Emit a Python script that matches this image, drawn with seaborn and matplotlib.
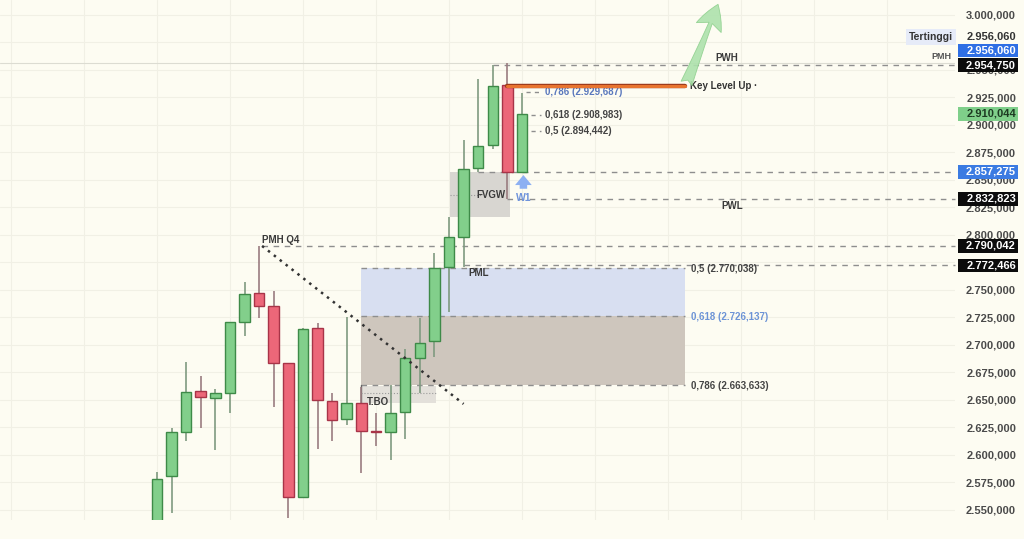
import numpy as np
import pandas as pd
import seaborn as sns
import matplotlib.pyplot as plt
import matplotlib.patheffects as pe
from matplotlib import transforms
from matplotlib.patches import Rectangle

# candle data (weekly-ish bars)
opens = [2538000, 2581200, 2621200, 2658200, 2651500, 2656100, 2720600, 2747000,
         2735500, 2683400, 2562100, 2715200, 2649400, 2632700, 2647300, 2622100,
         2620600, 2639100, 2688500, 2703900, 2770600, 2797900, 2860600, 2881800,
         2936400, 2857275]
highs = [2584500, 2624300, 2684300, 2671800, 2660000, 2721200, 2757600, 2790042,
         2749100, 2684000, 2715800, 2720300, 2656100, 2725200, 2662100, 2637900,
         2663600, 2696400, 2724300, 2784000, 2816600, 2886400, 2941800, 2954750,
         2956060, 2929400]
lows = [2530000, 2547000, 2613000, 2624300, 2604500, 2637900, 2708200, 2724300,
        2643900, 2542700, 2561000, 2605200, 2613000, 2627300, 2583300, 2608200,
        2595500, 2614300, 2656100, 2688800, 2730300, 2771200, 2857500, 2878200,
        2832823, 2856500]
closes = [2578200, 2620900, 2657000, 2652400, 2656100, 2720600, 2746400, 2735200,
          2683400, 2561500, 2714500, 2650000, 2631800, 2647300, 2622100, 2620600,
          2638500, 2687900, 2701500, 2769700, 2797900, 2860000, 2881200, 2935500,
          2857275, 2910044]

y_ticks = list(range(2550000, 3000001, 25000))
hidden_ticks = [2975000, 2775000]  # covered by the price tags

# key levels
pwh, pmh, tertinggi = 2954750, 2956060, 2956060
key_level_up = 2935450
fib_w = [("0,786", 2929687), ("0,618", 2908983), ("0,5", 2894442)]
w1_open = 2857275
pwl = 2832823
pmh_q4 = 2790042
pml = 2772466
fib_m = [("0,5", 2770038), ("0,618", 2726137), ("0,786", 2663633)]
fvg_low, fvg_high = 2816400, 2857300
tbo_low, tbo_high = 2647300, 2662700
trend_x = [7.2, 21.0]
trend_y = [2790042, 2646400]
current = 2910044


def fmt(v):
    s = f"{v / 1000:,.3f}"
    return s.replace(",", "#").replace(".", ",").replace("#", ".")


sns.set_theme(style="white")
plt.rcParams['font.family'] = ['Liberation Sans', 'DejaVu Sans']
bg = '#fdfcf2'

fig, ax = plt.subplots(figsize=(10.24, 5.39), dpi=100)
fig.patch.set_facecolor(bg)
ax.set_facecolor(bg)
fig.subplots_adjust(left=0, right=955 / 1024, top=1, bottom=19 / 539)

XL, XR = -10.75, 54.66
ax.set_xlim(XL, XR)
ax.set_ylim(2540900, 3013600)

df = pd.DataFrame({'o': opens, 'h': highs, 'l': lows, 'c': closes})
df['i'] = np.arange(len(df))
df['up'] = df['c'] >= df['o']

body = np.where(df['up'], '#82cf8b', '#ec6779')
edge = np.where(df['up'], '#3e8a48', '#a83448')
wick = np.where(df['up'], '#7f9a80', '#9a7c80')

# zones
ax.fill_between([14, 36.2], fib_m[1][1], fib_m[0][1], color='#d8dff1', lw=0, zorder=1)
ax.fill_between([14, 36.2], fib_m[2][1], fib_m[1][1], color='#cec6bd', lw=0, zorder=1)
ax.fill_between([14, 19.1], tbo_low, tbo_high, color='#e3e0da', lw=0, zorder=1)
ax.fill_between([20.1, 24.2], fvg_low, fvg_high, color='#d8d6d1', lw=0, zorder=1)

dash = dict(color='#8e8e8e', lw=1, dashes=(4, 4), zorder=2)
for lab, v in fib_m:
    ax.plot([14, 36.2], [v, v], **dash)
ax.plot([14, 14], [tbo_low, fib_m[2][1]], color='#666', lw=1, zorder=2)
ax.plot([14, 19.1], [2656400, 2656400], color='#9a9a9a', lw=0.8, ls=':', zorder=2)
ax.plot([20.1, 22.2], [2836000, 2836000], color='#9a9a9a', lw=0.8, ls=':', zorder=2)

# level lines running to right edge
ax.axhline(pmh, color='#dcdcd2', lw=0.8, zorder=1)
for x0, v in [(23, pwh), (22, w1_open), (24, pwl), (7.2, pmh_q4), (21, pml)]:
    ax.plot([x0, XR], [v, v], clip_on=False, **dash)

# candles
ax.vlines(df['i'], df['l'], df['h'], colors=wick, lw=1.2, zorder=3)
ax.bar(df['i'], (df['c'] - df['o']).abs(), bottom=df[['o', 'c']].min(axis=1),
       width=0.72, color=body, edgecolor=edge, lw=1, zorder=4)

# trend line
sns.lineplot(x=trend_x, y=trend_y, ax=ax, color='#333333', lw=1.8, ls=(0, (1, 2.0)), zorder=5)

# key level up + arrow
ax.plot([24, 36.2], [key_level_up, key_level_up], color='#e8742f', lw=2.2, zorder=5,
        path_effects=[pe.Stroke(linewidth=3.2, foreground='#9c3a1c'), pe.Normal()])
ax.text(36.5, key_level_up, 'Key Level Up ·', fontsize=7, fontweight='bold', color='#333',
        va='center', ha='left')
ax.annotate('', xy=(38.5, 3012000), xytext=(36.2, key_level_up),
            arrowprops=dict(arrowstyle='fancy,head_length=1.5,head_width=1.6,tail_width=0.7',
                            fc='#aee2ad', ec='#8fd08e', lw=0.6, alpha=0.9), zorder=6)

# W1 arrow
ax.annotate('', xy=(25.1, 2857000), xytext=(25.1, 2839500),
            arrowprops=dict(arrowstyle='simple,head_length=0.6,head_width=1.0,tail_width=0.45',
                            fc='#8db0f2', ec='none'), zorder=6)
ax.text(25.1, 2834000, 'W1', fontsize=7.5, fontweight='bold', color='#6f93db', ha='center', va='center')

# fib labels near last candles
for lab, v in fib_w:
    c = '#5a78bd' if lab == '0,786' else '#444'
    x0 = 25.3 if lab == '0,786' else 25.6
    ax.plot([x0, 26.3], [v, v], color='#8e8e8e', lw=1, dashes=(3, 3), zorder=2)
    ax.text(26.6, v, f"{lab} ({fmt(v)})", fontsize=7, fontweight='bold', color=c, va='center')

for lab, v in fib_m:
    c = '#6c93d6' if lab == '0,618' else '#444'
    ax.text(36.6, v - 900, f"{lab} ({fmt(v)})", fontsize=7, fontweight='bold', color=c, va='center')

lbl = dict(fontsize=7, fontweight='bold', color='#3a3a3a')
ax.text(39.0, 2961000, 'PWH', ha='center', va='center', **lbl)
ax.text(54.4, 2961800, 'PMH', ha='right', va='center', fontsize=6.5, fontweight='bold', color='#555')
ax.text(39.4, 2826300, 'PWL', ha='center', va='center', **lbl)
ax.text(7.2, 2795600, 'PMH Q4', ha='left', va='center', **lbl)
ax.text(21.3, 2765400, 'PML', ha='left', va='center', **lbl)
ax.text(23.9, 2836000, 'FVGW', ha='right', va='center', **lbl)
ax.text(14.4, 2648200, 'T.BO', ha='left', va='center', **lbl)

# axes, ticks
ax.yaxis.tick_right()
ax.set_yticks(y_ticks)
ax.set_yticklabels(['' if v in hidden_ticks else fmt(v) for v in y_ticks])
ax.tick_params(axis='y', length=0, pad=44, labelsize=8, labelcolor='#4a4a4a')
for t in ax.get_yticklabels():
    t.set_ha('right')
    t.set_fontweight('bold')
ax.set_xticks(np.arange(-10, 55, 5))
ax.tick_params(axis='x', length=0, labelbottom=False)
ax.grid(True, color='#f1f0e5', lw=0.8)
ax.set_axisbelow(True)
for s in ax.spines.values():
    s.set_visible(False)

# price tags on the right
tr = transforms.blended_transform_factory(ax.transAxes, ax.transData)
xr = 1016 / 955
tag_x0, tag_w = 958 / 955, 60 / 955
tag_h = 13.5 / 1.1 * 1000


def price_box(y, text, fc, tc):
    ax.add_patch(Rectangle((tag_x0, y - tag_h / 2), tag_w, tag_h, transform=tr, fc=fc, ec='none',
                           clip_on=False, zorder=9))
    ax.text(xr, y, text, transform=tr, ha='right', va='center', fontsize=8, fontweight='bold',
            color=tc, clip_on=False, zorder=10)


ax.text(0.998, 2980000, 'Tertinggi', transform=tr, ha='right', va='center', fontsize=7.5,
        fontweight='bold', color='#333', clip_on=False, zorder=10,
        bbox=dict(boxstyle='square,pad=0.3', fc='#e6ebf8', ec='none'))
price_box(2980000, fmt(tertinggi), bg, '#333')
price_box(2967600, fmt(pmh), '#2f6fe4', 'white')
price_box(pwh - 300, fmt(pwh), '#0c0c0c', 'white')
price_box(current, fmt(current), '#7fcf8a', '#1d3a22')
price_box(w1_open, fmt(w1_open), '#3b7be2', 'white')
price_box(pwl, fmt(pwl), '#0c0c0c', 'white')
price_box(pmh_q4, fmt(pmh_q4), '#0c0c0c', 'white')
price_box(pml, fmt(pml), '#0c0c0c', 'white')

plt.savefig('out.png', dpi=100, facecolor=bg)
